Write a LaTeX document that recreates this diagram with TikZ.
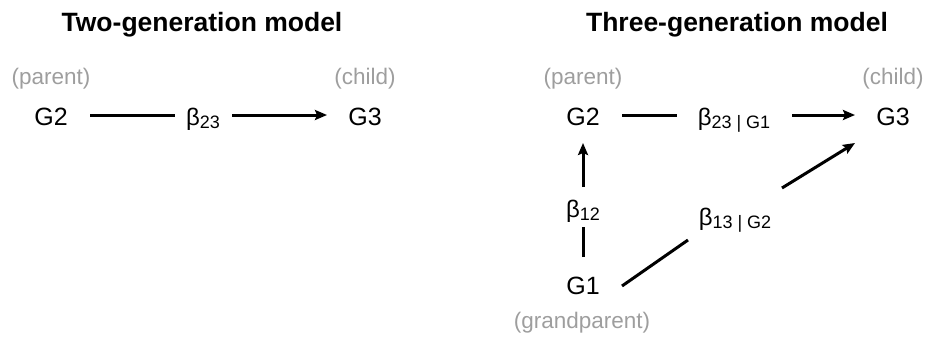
\documentclass[tikz,border=0pt]{standalone}
\usepackage{fontspec}
\setmainfont{Liberation Sans}
\usetikzlibrary{arrows.meta,calc}
\definecolor{lblgray}{HTML}{9E9E9E}
\newcommand{\sbx}[1]{\raisebox{-3pt}{\fontsize{18}{18}\selectfont #1}}
\tikzset{
  title/.style={font=\fontsize{26.5}{26.5}\selectfont\bfseries, anchor=base, inner sep=0pt},
  gen/.style={font=\fontsize{25}{25}\selectfont, anchor=base, inner sep=0pt},
  role/.style={font=\fontsize{22.5}{22.5}\selectfont, text=lblgray, anchor=base, inner sep=0pt},
  coef/.style={font=\fontsize{24}{24}\selectfont, anchor=base, inner sep=0pt},
  link/.style={line width=3pt},
  arr/.style={line width=3pt, -{Stealth[length=12pt,width=10pt,inset=2pt]}}
}
\begin{document}
\begin{tikzpicture}[x=1pt,y=-1pt]
\useasboundingbox (0,0) rectangle (931,343);
% left
\node[title] (t1) at (202,31) {Two-generation model};
\node[role] (pL) at (51,84) {(parent)};
\node[role] (cL) at (365,84) {(child)};
\node[gen] (g2L) at (51,125) {G2};
\node[gen] (g3L) at (365,125) {G3};
\node[coef] (b23L) at (203,125) {β\sbx{23}};
\draw[link] ($(g2L.base)+(39,-10)$) -- ($(b23L.base)+(-28,-10)$);
\draw[arr] ($(b23L.base)+(29,-10)$) -- ($(g3L.base)+(-38,-10)$);
% right
\node[title] (t2) at (737,31) {Three-generation model};
\node[role] (pR) at (583,84) {(parent)};
\node[role] (cR) at (893,84) {(child)};
\node[role] (gpR) at (582,328) {(grandparent)};
\node[gen] (g2R) at (583,125) {G2};
\node[gen] (g3R) at (893,125) {G3};
\node[gen] (g1R) at (583,294) {G1};
\node[coef] (b23R) at (734,125) {β\sbx{23 | G1}};
\node[coef] (b12R) at (583,217) {β\sbx{12}};
\node[coef] (b13R) at (735,225) {β\sbx{13 | G2}};
\draw[link] ($(g2R.base)+(39,-10)$) -- ($(b23R.base)+(-57,-10)$);
\draw[arr] ($(b23R.base)+(58,-10)$) -- ($(g3R.base)+(-38,-10)$);
\draw[link] ($(g1R.base)+(0,-37)$) -- ($(b12R.base)+(0,10)$);
\draw[arr] ($(b12R.base)+(0,-30)$) -- ($(g2R.base)+(0,18)$);
\draw[link] ($(g1R.base)+(39,-8)$) -- ($(b13R.base)+(-47,15)$);
\draw[arr] ($(b13R.base)+(47,-37)$) -- ($(g3R.base)+(-38,18)$);
\end{tikzpicture}
\end{document}
